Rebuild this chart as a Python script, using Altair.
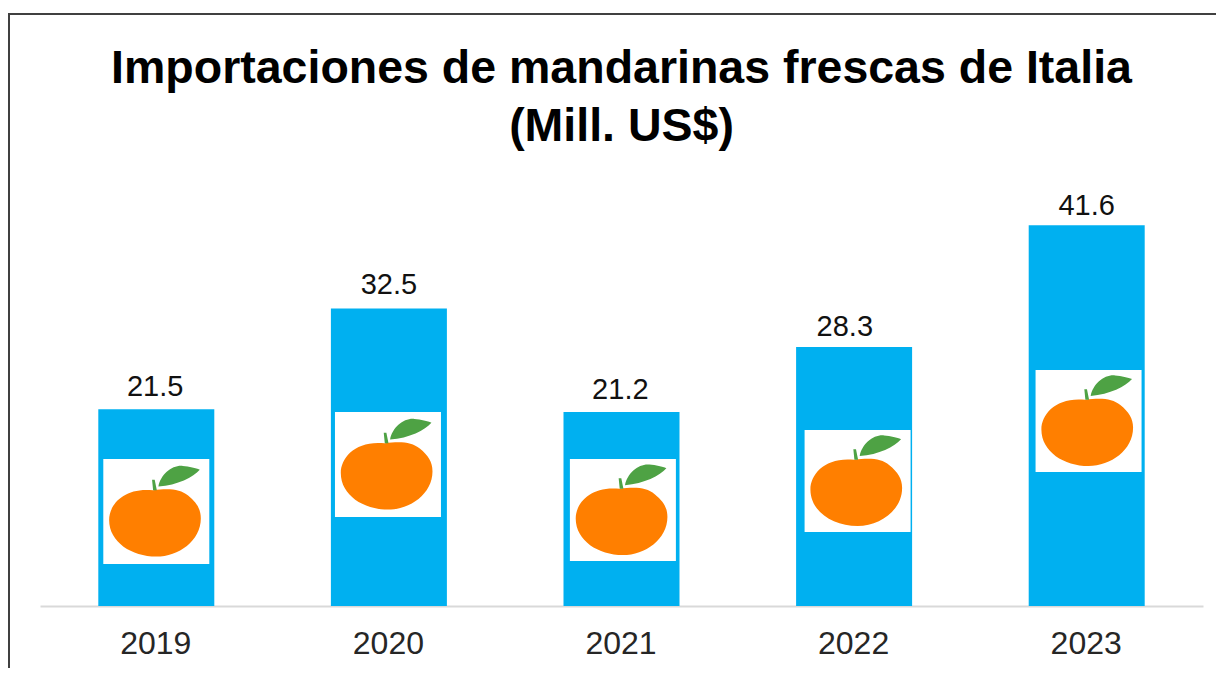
import altair as alt
import pandas as pd

years = [2019, 2020, 2021, 2022, 2023]
values = [21.5, 32.5, 21.2, 28.3, 41.6]
labels = ["21.5", "32.5", "21.2", "28.3", "41.6"]
label_x = [2018.995, 2020.0, 2020.995, 2021.96, 2023.0]
label_y = [22.94, 34.13, 22.6, 29.5, 42.7]
picture_x = [2019.0, 2019.996, 2021.006, 2022.015, 2023.008]
picture_bottom = [4.59, 9.72, 4.91, 8.08, 14.64]
picture_top = [16.05, 21.19, 16.05, 19.22, 25.78]
title_lines = ["Importaciones de mandarinas frescas de Italia", "(Mill. US$)"]

FRUIT = ("M-0.06,-0.40 C0.25,-0.44 0.45,-0.42 0.60,-0.30 C0.76,-0.17 0.84,-0.05 0.84,0.13 "
         "C0.84,0.55 0.42,0.85 0,0.85 C-0.46,0.85 -0.89,0.58 -0.89,0.16 "
         "C-0.89,-0.14 -0.60,-0.46 -0.06,-0.40 Z")
LEAF = ("M0.04,-0.47 C0.08,-0.70 0.30,-0.88 0.50,-0.86 C0.62,-0.85 0.75,-0.82 0.82,-0.79 "
        "C0.70,-0.65 0.40,-0.50 0.04,-0.47 Z "
        "M-0.08,-0.60 L-0.03,-0.60 L0.01,-0.40 L-0.06,-0.40 Z")

df = pd.DataFrame({
    "year": years, "value": values, "label": labels, "lx": label_x, "ly": label_y,
    "px": picture_x, "pb": picture_bottom, "pt": picture_top,
})
df["pm"] = (df.pb + df.pt) / 2

FONT = "Liberation Sans"
x_scale = alt.Scale(domain=[2018.5, 2023.5], nice=False, zero=False, padding=0)
y_scale = alt.Scale(domain=[0, 45], nice=False)
x = alt.X("year:Q", scale=x_scale,
          axis=alt.Axis(values=years, format="d", title=None, grid=False, ticks=False,
                        labelFont=FONT, labelFontSize=32, labelColor="#262626", labelPadding=22,
                        labelOffset=-1, domainColor="#d9d9d9", domainWidth=2, labelFlush=False,
                        labelOverlap=False))
y = alt.Y("value:Q", scale=y_scale, axis=None)
px = alt.X("px:Q", scale=x_scale, axis=None)
pm = alt.Y("pm:Q", scale=y_scale, axis=None)
base = alt.Chart(df)

bars = base.mark_bar(size=116, color="#00b0f0").encode(x=x, y=y)
text = base.mark_text(font=FONT, fontSize=29, color="#111111", baseline="alphabetic").encode(
    x=alt.X("lx:Q", scale=x_scale, axis=None), y=alt.Y("ly:Q", scale=y_scale, axis=None), text="label:N")
boxes = base.mark_bar(size=106, color="#ffffff").encode(
    x=px, y=alt.Y("pb:Q", scale=y_scale, axis=None), y2="pt:Q")
fruit = base.mark_point(shape=FRUIT, size=11236, filled=True, color="#ff7f00", opacity=1).encode(x=px, y=pm)
leaf = base.mark_point(shape=LEAF, size=11236, filled=True, color="#4ea244", opacity=1).encode(x=px, y=pm)

frame_left = base.mark_rule(color="#404040", strokeWidth=2, clip=False).encode(
    x=alt.value(-31), y=alt.value(-180), y2=alt.value(480))
frame_top = base.mark_rule(color="#404040", strokeWidth=2, clip=False).encode(
    y=alt.value(-180), x=alt.value(-32), x2=alt.value(1190))

chart = (
    alt.layer(frame_left, frame_top, bars, text, boxes, fruit, leaf)
    .resolve_axis(x="independent")
    .properties(
        width=1163, height=412,
        title=alt.TitleParams(title_lines, font=FONT, fontSize=46.5, fontWeight="bold", color="#000000",
                              anchor="middle", frame="group", lineHeight=58, offset=-137),
        autosize=alt.AutoSizeParams(type="none"),
        padding={"left": 32, "top": 186, "right": 13, "bottom": 62},
    )
    .configure_view(stroke=None)
)
chart.save("out.html", embed_options={"renderer": "svg", "actions": False})
